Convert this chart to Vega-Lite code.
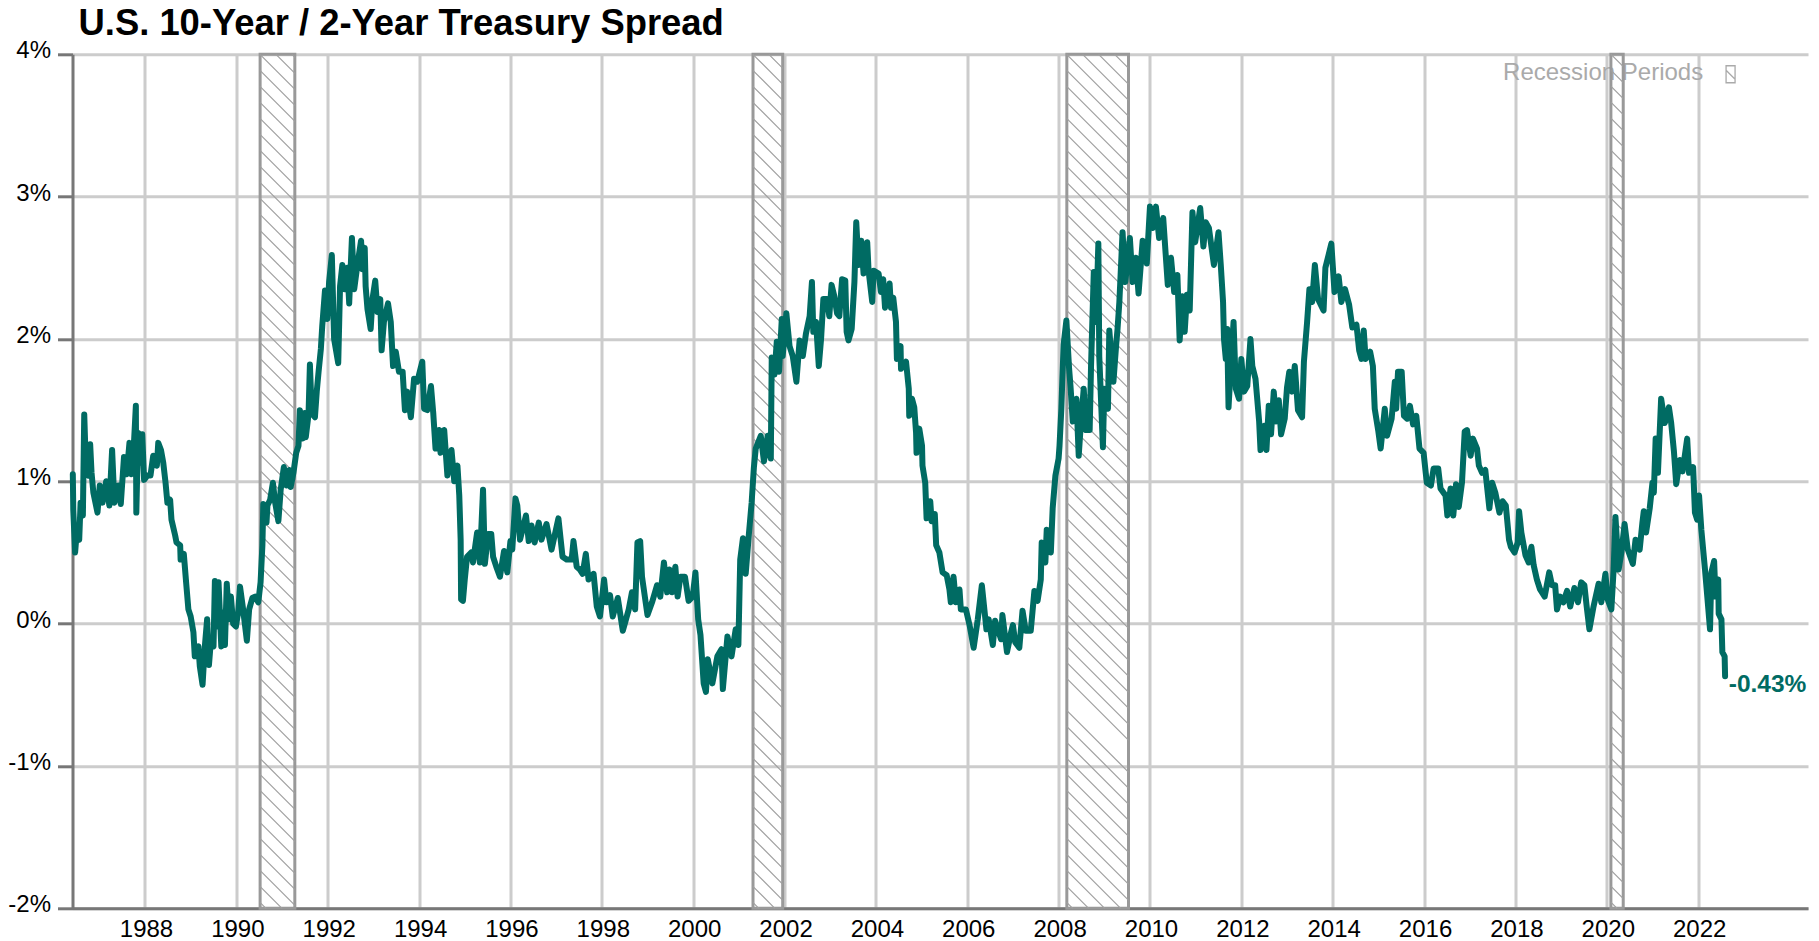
{"$schema":"https://vega.github.io/schema/vega-lite/v6.json","width":1735.5,"height":854,"autosize":{"type":"none"},"padding":{"left":72.5,"top":54.3,"right":11,"bottom":32.7},"background":"white","view":{"stroke":null},
"title":{"text":"U.S. 10-Year / 2-Year Treasury Spread","anchor":"start","frame":"group","font":"Liberation Sans","fontSize":36.4,"fontWeight":"bold","color":"#000","dx":6,"offset":-4},
"datasets":{"bands":[{"name":"r1","start":1990.52,"end":1991.28,"mid":1990.9},{"name":"r2","start":2001.31,"end":2001.96,"mid":2001.635},{"name":"r3","start":2008.18,"end":2009.53,"mid":2008.855},{"name":"r4","start":2020.09,"end":2020.36,"mid":2020.225}],
"spread":[
{"year":1986.42,"spread":1.05},{"year":1986.43,"spread":0.8},{"year":1986.47,"spread":0.5},{"year":1986.5,"spread":0.62},{"year":1986.56,"spread":0.59},{"year":1986.59,"spread":0.85},{"year":1986.64,"spread":0.76},{"year":1986.67,"spread":1.47},{"year":1986.71,"spread":1.06},{"year":1986.76,"spread":1.04},{"year":1986.8,"spread":1.26},{"year":1986.83,"spread":1.06},{"year":1986.87,"spread":0.92},{"year":1986.96,"spread":0.78},{"year":1987.01,"spread":0.97},{"year":1987.07,"spread":0.85},{"year":1987.15,"spread":1.0},{"year":1987.22,"spread":0.83},{"year":1987.28,"spread":1.22},{"year":1987.33,"spread":0.85},{"year":1987.42,"spread":0.97},{"year":1987.47,"spread":0.84},{"year":1987.54,"spread":1.17},{"year":1987.6,"spread":1.05},{"year":1987.66,"spread":1.27},{"year":1987.7,"spread":1.05},{"year":1987.74,"spread":1.15},{"year":1987.8,"spread":1.53},{"year":1987.81,"spread":0.78},{"year":1987.85,"spread":1.34},{"year":1987.89,"spread":1.13},{"year":1987.94,"spread":1.33},{"year":1987.98,"spread":1.01},
{"year":1988.05,"spread":1.04},{"year":1988.12,"spread":1.04},{"year":1988.18,"spread":1.18},{"year":1988.26,"spread":1.11},{"year":1988.29,"spread":1.27},{"year":1988.35,"spread":1.22},{"year":1988.4,"spread":1.13},{"year":1988.45,"spread":0.99},{"year":1988.49,"spread":0.85},{"year":1988.55,"spread":0.87},{"year":1988.58,"spread":0.73},{"year":1988.66,"spread":0.62},{"year":1988.69,"spread":0.57},{"year":1988.77,"spread":0.55},{"year":1988.78,"spread":0.45},{"year":1988.85,"spread":0.49},{"year":1988.9,"spread":0.29},{"year":1988.95,"spread":0.1},{"year":1989.0,"spread":0.05},{"year":1989.06,"spread":-0.06},{"year":1989.09,"spread":-0.23},{"year":1989.17,"spread":-0.16},{"year":1989.2,"spread":-0.3},{"year":1989.26,"spread":-0.43},{"year":1989.31,"spread":-0.16},{"year":1989.36,"spread":0.03},{"year":1989.4,"spread":-0.29},{"year":1989.44,"spread":-0.13},{"year":1989.5,"spread":-0.16},{"year":1989.53,"spread":0.3},{"year":1989.57,"spread":-0.02},{"year":1989.61,"spread":0.29},{"year":1989.67,"spread":-0.16},{"year":1989.72,"spread":0.08},{"year":1989.75,"spread":-0.15},{"year":1989.79,"spread":0.28},{"year":1989.84,"spread":0.03},{"year":1989.88,"spread":0.19},{"year":1989.93,"spread":0.0},{"year":1989.99,"spread":-0.02},
{"year":1990.04,"spread":0.08},{"year":1990.08,"spread":0.26},{"year":1990.14,"spread":0.12},{"year":1990.23,"spread":-0.12},{"year":1990.28,"spread":0.1},{"year":1990.35,"spread":0.18},{"year":1990.41,"spread":0.19},{"year":1990.48,"spread":0.15},{"year":1990.53,"spread":0.29},{"year":1990.57,"spread":0.55},{"year":1990.59,"spread":0.84},{"year":1990.66,"spread":0.71},{"year":1990.68,"spread":0.83},{"year":1990.74,"spread":0.87},{"year":1990.8,"spread":0.99},{"year":1990.85,"spread":0.85},{"year":1990.92,"spread":0.72},{"year":1990.97,"spread":0.94},{"year":1991.04,"spread":1.1},{"year":1991.1,"spread":0.97},{"year":1991.16,"spread":1.08},{"year":1991.19,"spread":0.96},{"year":1991.25,"spread":1.06},{"year":1991.31,"spread":1.2},{"year":1991.36,"spread":1.25},{"year":1991.39,"spread":1.5},{"year":1991.45,"spread":1.3},{"year":1991.5,"spread":1.48},{"year":1991.52,"spread":1.31},{"year":1991.58,"spread":1.47},{"year":1991.61,"spread":1.82},{"year":1991.65,"spread":1.48},{"year":1991.72,"spread":1.45},{"year":1991.76,"spread":1.63},{"year":1991.8,"spread":1.77},{"year":1991.85,"spread":1.93},{"year":1991.88,"spread":2.09},{"year":1991.94,"spread":2.34},{"year":1991.99,"spread":2.14},
{"year":1992.03,"spread":2.4},{"year":1992.09,"spread":2.59},{"year":1992.14,"spread":2.0},{"year":1992.23,"spread":1.83},{"year":1992.27,"spread":2.37},{"year":1992.32,"spread":2.52},{"year":1992.38,"spread":2.35},{"year":1992.43,"spread":2.5},{"year":1992.47,"spread":2.25},{"year":1992.53,"spread":2.71},{"year":1992.58,"spread":2.35},{"year":1992.65,"spread":2.52},{"year":1992.73,"spread":2.69},{"year":1992.76,"spread":2.49},{"year":1992.81,"spread":2.64},{"year":1992.83,"spread":2.37},{"year":1992.87,"spread":2.21},{"year":1992.94,"spread":2.07},{"year":1992.98,"spread":2.28},{"year":1993.04,"spread":2.41},{"year":1993.09,"spread":2.19},{"year":1993.15,"spread":2.28},{"year":1993.18,"spread":1.92},{"year":1993.23,"spread":2.12},{"year":1993.32,"spread":2.25},{"year":1993.38,"spread":2.12},{"year":1993.43,"spread":1.81},{"year":1993.49,"spread":1.91},{"year":1993.56,"spread":1.77},{"year":1993.64,"spread":1.77},{"year":1993.69,"spread":1.5},{"year":1993.74,"spread":1.63},{"year":1993.82,"spread":1.45},{"year":1993.89,"spread":1.72},{"year":1993.96,"spread":1.7},
{"year":1994.07,"spread":1.84},{"year":1994.11,"spread":1.51},{"year":1994.18,"spread":1.5},{"year":1994.26,"spread":1.67},{"year":1994.31,"spread":1.48},{"year":1994.36,"spread":1.23},{"year":1994.44,"spread":1.36},{"year":1994.47,"spread":1.2},{"year":1994.55,"spread":1.36},{"year":1994.62,"spread":1.04},{"year":1994.71,"spread":1.22},{"year":1994.77,"spread":1.0},{"year":1994.84,"spread":1.11},{"year":1994.88,"spread":0.9},{"year":1994.91,"spread":0.59},{"year":1994.92,"spread":0.17},{"year":1994.96,"spread":0.16},{"year":1995.0,"spread":0.31},{"year":1995.05,"spread":0.47},{"year":1995.14,"spread":0.5},{"year":1995.18,"spread":0.43},{"year":1995.27,"spread":0.64},{"year":1995.33,"spread":0.43},{"year":1995.4,"spread":0.94},{"year":1995.44,"spread":0.42},{"year":1995.51,"spread":0.63},{"year":1995.58,"spread":0.63},{"year":1995.62,"spread":0.47},{"year":1995.69,"spread":0.4},{"year":1995.77,"spread":0.33},{"year":1995.86,"spread":0.51},{"year":1995.93,"spread":0.36},
{"year":1996.0,"spread":0.58},{"year":1996.04,"spread":0.52},{"year":1996.11,"spread":0.88},{"year":1996.15,"spread":0.83},{"year":1996.21,"spread":0.59},{"year":1996.34,"spread":0.76},{"year":1996.4,"spread":0.58},{"year":1996.46,"spread":0.69},{"year":1996.53,"spread":0.57},{"year":1996.62,"spread":0.71},{"year":1996.68,"spread":0.59},{"year":1996.79,"spread":0.7},{"year":1996.9,"spread":0.52},{"year":1997.05,"spread":0.74},{"year":1997.14,"spread":0.47},{"year":1997.23,"spread":0.45},{"year":1997.34,"spread":0.45},{"year":1997.38,"spread":0.58},{"year":1997.45,"spread":0.4},{"year":1997.52,"spread":0.38},{"year":1997.58,"spread":0.35},{"year":1997.65,"spread":0.49},{"year":1997.71,"spread":0.31},{"year":1997.82,"spread":0.35},{"year":1997.89,"spread":0.12},{"year":1997.96,"spread":0.05},
{"year":1998.05,"spread":0.31},{"year":1998.1,"spread":0.15},{"year":1998.18,"spread":0.2},{"year":1998.24,"spread":0.05},{"year":1998.35,"spread":0.18},{"year":1998.46,"spread":-0.05},{"year":1998.59,"spread":0.1},{"year":1998.66,"spread":0.22},{"year":1998.73,"spread":0.1},{"year":1998.78,"spread":0.57},{"year":1998.84,"spread":0.58},{"year":1998.88,"spread":0.33},{"year":1999.0,"spread":0.06},{"year":1999.1,"spread":0.15},{"year":1999.21,"spread":0.27},{"year":1999.28,"spread":0.19},{"year":1999.36,"spread":0.43},{"year":1999.43,"spread":0.22},{"year":1999.48,"spread":0.38},{"year":1999.54,"spread":0.22},{"year":1999.61,"spread":0.4},{"year":1999.66,"spread":0.19},{"year":1999.72,"spread":0.33},{"year":1999.82,"spread":0.33},{"year":1999.9,"spread":0.16},{"year":1999.99,"spread":0.19},
{"year":2000.05,"spread":0.36},{"year":2000.11,"spread":0.03},{"year":2000.16,"spread":-0.08},{"year":2000.23,"spread":-0.42},{"year":2000.28,"spread":-0.48},{"year":2000.32,"spread":-0.25},{"year":2000.42,"spread":-0.42},{"year":2000.53,"spread":-0.23},{"year":2000.62,"spread":-0.18},{"year":2000.65,"spread":-0.46},{"year":2000.75,"spread":-0.09},{"year":2000.84,"spread":-0.23},{"year":2000.93,"spread":-0.04},{"year":2000.99,"spread":-0.15},{"year":2001.03,"spread":0.45},{"year":2001.09,"spread":0.6},{"year":2001.15,"spread":0.35},{"year":2001.22,"spread":0.63},{"year":2001.28,"spread":0.85},{"year":2001.33,"spread":1.1},{"year":2001.37,"spread":1.23},{"year":2001.48,"spread":1.32},{"year":2001.55,"spread":1.14},{"year":2001.63,"spread":1.32},{"year":2001.7,"spread":1.16},{"year":2001.72,"spread":1.87},{"year":2001.78,"spread":1.75},{"year":2001.83,"spread":1.98},{"year":2001.88,"spread":1.77},{"year":2001.94,"spread":2.14},{"year":2001.96,"spread":1.88},
{"year":2002.04,"spread":2.18},{"year":2002.11,"spread":1.95},{"year":2002.18,"spread":1.88},{"year":2002.26,"spread":1.7},{"year":2002.33,"spread":1.99},{"year":2002.4,"spread":1.88},{"year":2002.47,"spread":2.04},{"year":2002.55,"spread":2.16},{"year":2002.6,"spread":2.4},{"year":2002.63,"spread":2.05},{"year":2002.69,"spread":2.12},{"year":2002.75,"spread":1.81},{"year":2002.8,"spread":2.0},{"year":2002.85,"spread":2.28},{"year":2002.93,"spread":2.28},{"year":2002.98,"spread":2.16},{"year":2003.03,"spread":2.38},{"year":2003.09,"spread":2.3},{"year":2003.15,"spread":2.18},{"year":2003.2,"spread":2.16},{"year":2003.26,"spread":2.42},{"year":2003.33,"spread":2.41},{"year":2003.36,"spread":2.05},{"year":2003.4,"spread":1.99},{"year":2003.47,"spread":2.07},{"year":2003.53,"spread":2.4},{"year":2003.57,"spread":2.82},{"year":2003.62,"spread":2.52},{"year":2003.68,"spread":2.69},{"year":2003.73,"spread":2.46},{"year":2003.81,"spread":2.68},{"year":2003.84,"spread":2.48},{"year":2003.92,"spread":2.26},{"year":2003.95,"spread":2.48},
{"year":2004.06,"spread":2.46},{"year":2004.11,"spread":2.33},{"year":2004.16,"spread":2.42},{"year":2004.2,"spread":2.22},{"year":2004.3,"spread":2.39},{"year":2004.33,"spread":2.22},{"year":2004.38,"spread":2.29},{"year":2004.44,"spread":2.12},{"year":2004.46,"spread":1.86},{"year":2004.54,"spread":1.95},{"year":2004.55,"spread":1.79},{"year":2004.66,"spread":1.84},{"year":2004.72,"spread":1.65},{"year":2004.73,"spread":1.46},{"year":2004.79,"spread":1.58},{"year":2004.84,"spread":1.52},{"year":2004.88,"spread":1.34},{"year":2004.89,"spread":1.2},{"year":2004.95,"spread":1.37},{"year":2005.01,"spread":1.25},{"year":2005.02,"spread":1.11},{"year":2005.08,"spread":0.99},{"year":2005.11,"spread":0.74},{"year":2005.19,"spread":0.86},{"year":2005.22,"spread":0.72},{"year":2005.29,"spread":0.77},{"year":2005.32,"spread":0.55},{"year":2005.39,"spread":0.5},{"year":2005.46,"spread":0.36},{"year":2005.55,"spread":0.34},{"year":2005.61,"spread":0.24},{"year":2005.64,"spread":0.15},{"year":2005.7,"spread":0.33},{"year":2005.75,"spread":0.15},{"year":2005.83,"spread":0.24},{"year":2005.86,"spread":0.1},{"year":2005.97,"spread":0.1},
{"year":2006.05,"spread":-0.01},{"year":2006.14,"spread":-0.17},{"year":2006.23,"spread":0.03},{"year":2006.32,"spread":0.27},{"year":2006.42,"spread":-0.04},{"year":2006.47,"spread":0.03},{"year":2006.56,"spread":-0.15},{"year":2006.61,"spread":0.02},{"year":2006.74,"spread":-0.11},{"year":2006.77,"spread":0.06},{"year":2006.87,"spread":-0.2},{"year":2006.96,"spread":-0.06},{"year":2007.0,"spread":-0.01},{"year":2007.05,"spread":-0.13},{"year":2007.14,"spread":-0.17},{"year":2007.21,"spread":0.09},{"year":2007.28,"spread":-0.05},{"year":2007.39,"spread":-0.05},{"year":2007.47,"spread":0.23},{"year":2007.54,"spread":0.16},{"year":2007.61,"spread":0.31},{"year":2007.63,"spread":0.57},{"year":2007.71,"spread":0.43},{"year":2007.74,"spread":0.66},{"year":2007.83,"spread":0.5},{"year":2007.87,"spread":0.81},{"year":2007.93,"spread":1.04},{"year":2008.0,"spread":1.16},
{"year":2008.02,"spread":1.25},{"year":2008.06,"spread":1.51},{"year":2008.08,"spread":1.7},{"year":2008.11,"spread":1.96},{"year":2008.17,"spread":2.13},{"year":2008.23,"spread":1.79},{"year":2008.26,"spread":1.67},{"year":2008.31,"spread":1.42},{"year":2008.39,"spread":1.58},{"year":2008.44,"spread":1.18},{"year":2008.49,"spread":1.42},{"year":2008.55,"spread":1.65},{"year":2008.6,"spread":1.36},{"year":2008.68,"spread":1.36},{"year":2008.71,"spread":1.81},{"year":2008.77,"spread":2.47},{"year":2008.82,"spread":2.12},{"year":2008.87,"spread":2.67},{"year":2008.89,"spread":1.88},{"year":2008.97,"spread":1.24},{"year":2009.0,"spread":1.65},{"year":2009.08,"spread":1.51},{"year":2009.11,"spread":2.06},{"year":2009.2,"spread":1.7},{"year":2009.26,"spread":1.96},{"year":2009.29,"spread":2.07},{"year":2009.33,"spread":2.26},{"year":2009.4,"spread":2.75},{"year":2009.46,"spread":2.4},{"year":2009.56,"spread":2.71},{"year":2009.62,"spread":2.4},{"year":2009.69,"spread":2.57},{"year":2009.75,"spread":2.32},{"year":2009.84,"spread":2.69},{"year":2009.93,"spread":2.53},
{"year":2010.0,"spread":2.93},{"year":2010.06,"spread":2.78},{"year":2010.13,"spread":2.93},{"year":2010.2,"spread":2.71},{"year":2010.29,"spread":2.85},{"year":2010.33,"spread":2.66},{"year":2010.39,"spread":2.38},{"year":2010.46,"spread":2.57},{"year":2010.53,"spread":2.33},{"year":2010.6,"spread":2.45},{"year":2010.65,"spread":1.99},{"year":2010.71,"spread":2.3},{"year":2010.76,"spread":2.05},{"year":2010.81,"spread":2.31},{"year":2010.87,"spread":2.2},{"year":2010.93,"spread":2.89},{"year":2010.99,"spread":2.68},{"year":2011.1,"spread":2.92},{"year":2011.17,"spread":2.65},{"year":2011.22,"spread":2.82},{"year":2011.29,"spread":2.78},{"year":2011.4,"spread":2.52},{"year":2011.5,"spread":2.75},{"year":2011.55,"spread":2.52},{"year":2011.6,"spread":2.26},{"year":2011.62,"spread":2.0},{"year":2011.66,"spread":1.86},{"year":2011.69,"spread":2.07},{"year":2011.72,"spread":1.52},{"year":2011.77,"spread":1.81},{"year":2011.83,"spread":2.12},{"year":2011.88,"spread":1.65},{"year":2011.95,"spread":1.58},
{"year":2012.0,"spread":1.86},{"year":2012.06,"spread":1.63},{"year":2012.13,"spread":1.67},{"year":2012.2,"spread":2.0},{"year":2012.24,"spread":1.81},{"year":2012.31,"spread":1.72},{"year":2012.39,"spread":1.42},{"year":2012.42,"spread":1.22},{"year":2012.5,"spread":1.39},{"year":2012.55,"spread":1.22},{"year":2012.6,"spread":1.53},{"year":2012.65,"spread":1.33},{"year":2012.71,"spread":1.63},{"year":2012.76,"spread":1.42},{"year":2012.82,"spread":1.57},{"year":2012.87,"spread":1.33},{"year":2012.95,"spread":1.44},{"year":2013.0,"spread":1.66},{"year":2013.05,"spread":1.77},{"year":2013.11,"spread":1.63},{"year":2013.17,"spread":1.81},{"year":2013.24,"spread":1.5},{"year":2013.33,"spread":1.45},{"year":2013.37,"spread":1.84},{"year":2013.44,"spread":2.12},{"year":2013.49,"spread":2.35},{"year":2013.55,"spread":2.26},{"year":2013.61,"spread":2.52},{"year":2013.68,"spread":2.28},{"year":2013.8,"spread":2.2},{"year":2013.84,"spread":2.5},{"year":2013.91,"spread":2.59},{"year":2013.97,"spread":2.67},
{"year":2014.04,"spread":2.33},{"year":2014.13,"spread":2.44},{"year":2014.19,"spread":2.26},{"year":2014.27,"spread":2.35},{"year":2014.36,"spread":2.24},{"year":2014.43,"spread":2.08},{"year":2014.52,"spread":2.1},{"year":2014.58,"spread":1.92},{"year":2014.63,"spread":1.86},{"year":2014.68,"spread":2.06},{"year":2014.72,"spread":1.86},{"year":2014.82,"spread":1.91},{"year":2014.88,"spread":1.81},{"year":2014.92,"spread":1.51},{"year":2015.0,"spread":1.35},{"year":2015.05,"spread":1.23},{"year":2015.14,"spread":1.51},{"year":2015.19,"spread":1.32},{"year":2015.29,"spread":1.44},{"year":2015.36,"spread":1.7},{"year":2015.39,"spread":1.51},{"year":2015.43,"spread":1.77},{"year":2015.51,"spread":1.77},{"year":2015.56,"spread":1.46},{"year":2015.63,"spread":1.44},{"year":2015.69,"spread":1.53},{"year":2015.76,"spread":1.4},{"year":2015.83,"spread":1.46},{"year":2015.9,"spread":1.23},{"year":2015.99,"spread":1.2},
{"year":2016.06,"spread":0.99},{"year":2016.15,"spread":0.97},{"year":2016.21,"spread":1.09},{"year":2016.31,"spread":1.09},{"year":2016.36,"spread":0.95},{"year":2016.47,"spread":0.9},{"year":2016.51,"spread":0.76},{"year":2016.58,"spread":0.95},{"year":2016.64,"spread":0.76},{"year":2016.7,"spread":0.98},{"year":2016.76,"spread":0.82},{"year":2016.83,"spread":0.99},{"year":2016.89,"spread":1.35},{"year":2016.94,"spread":1.36},{"year":2017.02,"spread":1.18},{"year":2017.07,"spread":1.3},{"year":2017.16,"spread":1.23},{"year":2017.2,"spread":1.11},{"year":2017.27,"spread":1.06},{"year":2017.34,"spread":1.08},{"year":2017.43,"spread":0.81},{"year":2017.49,"spread":0.99},{"year":2017.56,"spread":0.92},{"year":2017.65,"spread":0.78},{"year":2017.72,"spread":0.86},{"year":2017.79,"spread":0.83},{"year":2017.86,"spread":0.59},{"year":2017.9,"spread":0.54},{"year":2017.98,"spread":0.5},
{"year":2018.05,"spread":0.57},{"year":2018.08,"spread":0.79},{"year":2018.13,"spread":0.64},{"year":2018.22,"spread":0.48},{"year":2018.29,"spread":0.43},{"year":2018.35,"spread":0.54},{"year":2018.4,"spread":0.41},{"year":2018.47,"spread":0.31},{"year":2018.54,"spread":0.24},{"year":2018.64,"spread":0.19},{"year":2018.74,"spread":0.36},{"year":2018.8,"spread":0.27},{"year":2018.87,"spread":0.27},{"year":2018.91,"spread":0.1},{"year":2018.98,"spread":0.19},{"year":2019.05,"spread":0.15},{"year":2019.13,"spread":0.23},{"year":2019.2,"spread":0.12},{"year":2019.29,"spread":0.25},{"year":2019.37,"spread":0.15},{"year":2019.44,"spread":0.29},{"year":2019.51,"spread":0.27},{"year":2019.56,"spread":0.12},{"year":2019.62,"spread":-0.04},{"year":2019.71,"spread":0.12},{"year":2019.82,"spread":0.28},{"year":2019.88,"spread":0.15},{"year":2019.97,"spread":0.35},
{"year":2020.02,"spread":0.17},{"year":2020.1,"spread":0.1},{"year":2020.15,"spread":0.38},{"year":2020.19,"spread":0.75},{"year":2020.26,"spread":0.38},{"year":2020.32,"spread":0.5},{"year":2020.39,"spread":0.7},{"year":2020.46,"spread":0.52},{"year":2020.57,"spread":0.42},{"year":2020.63,"spread":0.59},{"year":2020.72,"spread":0.52},{"year":2020.78,"spread":0.71},{"year":2020.81,"spread":0.79},{"year":2020.86,"spread":0.64},{"year":2020.94,"spread":0.81},{"year":2021.0,"spread":0.99},{"year":2021.03,"spread":0.92},{"year":2021.07,"spread":1.3},{"year":2021.12,"spread":1.06},{"year":2021.19,"spread":1.58},{"year":2021.27,"spread":1.41},{"year":2021.36,"spread":1.52},{"year":2021.41,"spread":1.41},{"year":2021.47,"spread":1.21},{"year":2021.52,"spread":0.98},{"year":2021.6,"spread":1.15},{"year":2021.66,"spread":1.07},{"year":2021.76,"spread":1.3},{"year":2021.8,"spread":1.06},{"year":2021.89,"spread":1.1},{"year":2021.93,"spread":0.78},{"year":2021.98,"spread":0.73},{"year":2022.02,"spread":0.9},{"year":2022.07,"spread":0.66},{"year":2022.15,"spread":0.38},{"year":2022.2,"spread":0.19},{"year":2022.26,"spread":-0.04},{"year":2022.29,"spread":0.36},{"year":2022.35,"spread":0.44},{"year":2022.38,"spread":0.19},{"year":2022.44,"spread":0.31},{"year":2022.45,"spread":0.07},{"year":2022.51,"spread":0.03},{"year":2022.53,"spread":-0.2},{"year":2022.58,"spread":-0.23},{"year":2022.59,"spread":-0.37}
]},
"data":{"name":"spread"},
"layer":[
{"data":{"values":[{"label":"Recession Periods"}]},"mark":{"type":"text","font":"Liberation Sans","fontSize":24,"color":"#aaaaaa","align":"left","baseline":"middle"},
"encoding":{"text":{"field":"label"},"x":{"datum":2017.73,"type":"quantitative","scale":{"domain":[1986.413,2024.405],"nice":false,"zero":false},
"axis":{"title":null,"values":[1988,1990,1992,1994,1996,1998,2000,2002,2004,2006,2008,2010,2012,2014,2016,2018,2020,2022],"format":"d","ticks":false,"labelPadding":9,"labelOffset":1,"labelFont":"Liberation Sans","labelFontSize":24,"labelColor":"#000","labelOverlap":false,"labelFlush":false,"labelBound":false,"domainColor":"#777777","domainWidth":3,"grid":true,"gridColor":"#cccccc","gridWidth":3}},
"y":{"datum":3.87,"type":"quantitative","scale":{"domain":[-2,4],"nice":false,"zero":false},
"axis":{"title":null,"values":[-2,-1,0,1,2,3,4],"labelExpr":"datum.value + '%'","tickSize":15,"tickColor":"#777777","tickWidth":3,"labelPadding":7,"labelOffset":-3.5,"labelFont":"Liberation Sans","labelFontSize":24,"labelColor":"#000","labelOverlap":false,"labelFlush":false,"labelBound":false,"domainColor":"#777777","domainWidth":3,"grid":true,"gridColor":"#cccccc","gridWidth":3}}}},
{"data":{"name":"bands"},"mark":{"type":"rect","fill":"transparent","stroke":"#999999","strokeWidth":3},
"encoding":{"x":{"field":"start","type":"quantitative","scale":{"domain":[1986.413,2024.405],"nice":false,"zero":false}},"x2":{"field":"end"}}},
{"data":{"name":"bands"},"transform":[{"filter":"datum.name==='r1'"}],"mark":{"type":"point","size":4,"filled":false,"opacity":1,"stroke":"#a0a0a0","strokeWidth":1.2,"shape":"M-17.5,-427l35,35m-35,-19l35,35m-35,-19l35,35m-35,-19l35,35m-35,-19l35,35m-35,-19l35,35m-35,-19l35,35m-35,-19l35,35m-35,-19l35,35m-35,-19l35,35m-35,-19l35,35m-35,-19l35,35m-35,-19l35,35m-35,-19l35,35m-35,-19l35,35m-35,-19l35,35m-35,-19l35,35m-35,-19l35,35m-35,-19l35,35m-35,-19l35,35m-35,-19l35,35m-35,-19l35,35m-35,-19l35,35m-35,-19l35,35m-35,-19l35,35m-35,-19l35,35m-35,-19l35,35m-35,-19l35,35m-35,-19l35,35m-35,-19l35,35m-35,-19l35,35m-35,-19l35,35m-35,-19l35,35m-35,-19l35,35m-35,-19l35,35m-35,-19l35,35m-35,-19l35,35m-35,-19l35,35m-35,-19l35,35m-35,-19l35,35m-35,-19l35,35M-17.5,229l35,35M-17.5,245l35,35M-17.5,261l35,35M-17.5,277l35,35M-17.5,293l35,35M-17.5,309l35,35M-17.5,325l35,35M-17.5,341l35,35M-17.5,357l35,35M-17.5,373l35,35M-17.5,389l35,35M-17.5,405l22,22M-17.5,421l6,6M-1.5,-427l19,19M14.5,-427l3,3"},
"encoding":{"x":{"field":"mid","type":"quantitative","scale":{"domain":[1986.413,2024.405],"nice":false,"zero":false}},"y":{"datum":1,"type":"quantitative","scale":{"domain":[-2,4],"nice":false,"zero":false}}}},
{"data":{"name":"bands"},"transform":[{"filter":"datum.name==='r2'"}],"mark":{"type":"point","size":4,"filled":false,"opacity":1,"stroke":"#a0a0a0","strokeWidth":1.2,"shape":"M-15,-427l30,30m-30,-14l30,30m-30,-14l30,30m-30,-14l30,30m-30,-14l30,30m-30,-14l30,30m-30,-14l30,30m-30,-14l30,30m-30,-14l30,30m-30,-14l30,30m-30,-14l30,30m-30,-14l30,30m-30,-14l30,30m-30,-14l30,30m-30,-14l30,30m-30,-14l30,30m-30,-14l30,30m-30,-14l30,30m-30,-14l30,30m-30,-14l30,30m-30,-14l30,30m-30,-14l30,30m-30,-14l30,30m-30,-14l30,30m-30,-14l30,30m-30,-14l30,30m-30,-14l30,30m-30,-14l30,30m-30,-14l30,30m-30,-14l30,30m-30,-14l30,30m-30,-14l30,30m-30,-14l30,30m-30,-14l30,30m-30,-14l30,30m-30,-14l30,30m-30,-14l30,30m-30,-14l30,30m-30,-14l30,30m-30,-14l30,30M-15,229l30,30M-15,245l30,30M-15,261l30,30M-15,277l30,30M-15,293l30,30M-15,309l30,30M-15,325l30,30M-15,341l30,30M-15,357l30,30M-15,373l30,30M-15,389l30,30M-15,405l22,22M-15,421l6,6M1,-427l14,14"},
"encoding":{"x":{"field":"mid","type":"quantitative","scale":{"domain":[1986.413,2024.405],"nice":false,"zero":false}},"y":{"datum":1,"type":"quantitative","scale":{"domain":[-2,4],"nice":false,"zero":false}}}},
{"data":{"name":"bands"},"transform":[{"filter":"datum.name==='r3'"}],"mark":{"type":"point","size":4,"filled":false,"opacity":1,"stroke":"#a0a0a0","strokeWidth":1.2,"shape":"M-31,-427l62,62m-62,-46l62,62m-62,-46l62,62m-62,-46l62,62m-62,-46l62,62m-62,-46l62,62m-62,-46l62,62m-62,-46l62,62m-62,-46l62,62m-62,-46l62,62m-62,-46l62,62m-62,-46l62,62m-62,-46l62,62m-62,-46l62,62m-62,-46l62,62m-62,-46l62,62m-62,-46l62,62m-62,-46l62,62m-62,-46l62,62m-62,-46l62,62m-62,-46l62,62m-62,-46l62,62m-62,-46l62,62m-62,-46l62,62m-62,-46l62,62m-62,-46l62,62m-62,-46l62,62m-62,-46l62,62m-62,-46l62,62m-62,-46l62,62m-62,-46l62,62m-62,-46l62,62m-62,-46l62,62m-62,-46l62,62m-62,-46l62,62m-62,-46l62,62m-62,-46l62,62m-62,-46l62,62m-62,-46l62,62m-62,-46l62,62M-31,229l62,62M-31,245l62,62M-31,261l62,62M-31,277l62,62M-31,293l62,62M-31,309l62,62M-31,325l62,62M-31,341l62,62M-31,357l62,62M-31,373l54,54M-31,389l38,38M-31,405l22,22M-31,421l6,6M-15,-427l46,46M1,-427l30,30M17,-427l14,14"},
"encoding":{"x":{"field":"mid","type":"quantitative","scale":{"domain":[1986.413,2024.405],"nice":false,"zero":false}},"y":{"datum":1,"type":"quantitative","scale":{"domain":[-2,4],"nice":false,"zero":false}}}},
{"data":{"name":"bands"},"transform":[{"filter":"datum.name==='r4'"}],"mark":{"type":"point","size":4,"filled":false,"opacity":1,"stroke":"#a0a0a0","strokeWidth":1.2,"shape":"M-6,-427l12,12m-12,4l12,12m-12,4l12,12m-12,4l12,12m-12,4l12,12m-12,4l12,12m-12,4l12,12m-12,4l12,12m-12,4l12,12m-12,4l12,12m-12,4l12,12m-12,4l12,12m-12,4l12,12m-12,4l12,12m-12,4l12,12m-12,4l12,12m-12,4l12,12m-12,4l12,12m-12,4l12,12m-12,4l12,12m-12,4l12,12m-12,4l12,12m-12,4l12,12m-12,4l12,12m-12,4l12,12m-12,4l12,12m-12,4l12,12m-12,4l12,12m-12,4l12,12m-12,4l12,12m-12,4l12,12m-12,4l12,12m-12,4l12,12m-12,4l12,12m-12,4l12,12m-12,4l12,12m-12,4l12,12m-12,4l12,12m-12,4l12,12m-12,4l12,12M-6,229l12,12M-6,245l12,12M-6,261l12,12M-6,277l12,12M-6,293l12,12M-6,309l12,12M-6,325l12,12M-6,341l12,12M-6,357l12,12M-6,373l12,12M-6,389l12,12M-6,405l12,12M-6,421l6,6"},
"encoding":{"x":{"field":"mid","type":"quantitative","scale":{"domain":[1986.413,2024.405],"nice":false,"zero":false}},"y":{"datum":1,"type":"quantitative","scale":{"domain":[-2,4],"nice":false,"zero":false}}}},
{"data":{"values":[{"item":"legend"}]},"mark":{"type":"point","size":4,"filled":false,"opacity":1,"stroke":"#aaaaaa","strokeWidth":1.3,"shape":"M-4.5,-8.5h9v17h-9zM-4.5,-4l9,9"},
"encoding":{"x":{"datum":2022.71,"type":"quantitative","scale":{"domain":[1986.413,2024.405],"nice":false,"zero":false}},"y":{"datum":3.86,"type":"quantitative","scale":{"domain":[-2,4],"nice":false,"zero":false}}}},
{"mark":{"type":"line","color":"#006b63","strokeWidth":6,"strokeJoin":"round","strokeCap":"round","interpolate":"linear"},
"encoding":{"x":{"field":"year","type":"quantitative","scale":{"domain":[1986.413,2024.405],"nice":false,"zero":false}},"y":{"field":"spread","type":"quantitative","scale":{"domain":[-2,4],"nice":false,"zero":false}},"order":{"field":"year"}}},
{"data":{"values":[{"label":"-0.43%"}]},"mark":{"type":"text","font":"Liberation Sans","fontSize":24.5,"fontWeight":"bold","color":"#006b63","align":"left","baseline":"middle"},
"encoding":{"text":{"field":"label"},"x":{"datum":2022.67,"type":"quantitative","scale":{"domain":[1986.413,2024.405],"nice":false,"zero":false}},"y":{"datum":-0.43,"type":"quantitative","scale":{"domain":[-2,4],"nice":false,"zero":false}}}}
]}
